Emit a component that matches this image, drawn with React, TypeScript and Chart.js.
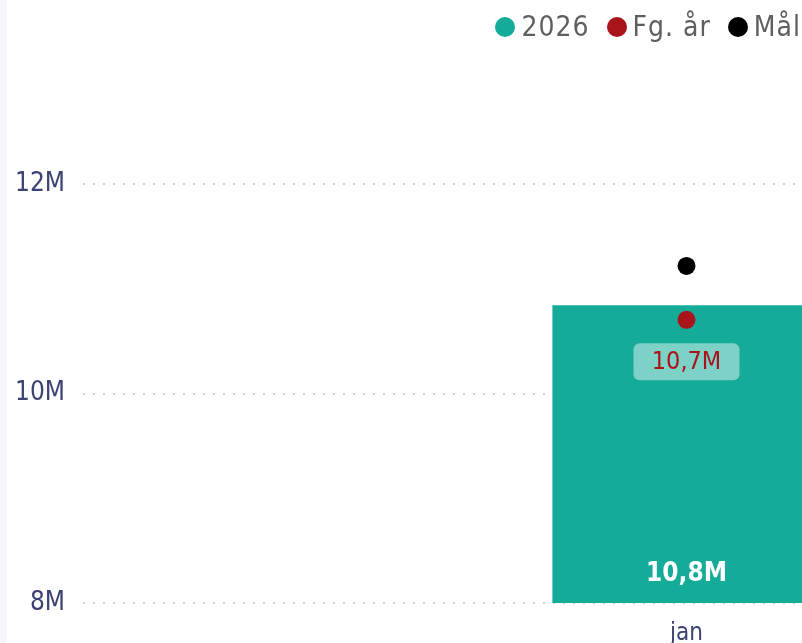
import React, { useEffect, useRef } from "react";
import { Chart, registerables } from "chart.js";

Chart.register(...registerables);

const categories = ["jan"];
const values2026 = [10845000];
const valuesPrevYear = [10705000];
const valuesTarget = [11220000];
const yTicks = [8000000, 10000000, 12000000];

const TEAL = "#14AB98";
const RED = "#A8141A";
const BLACK = "#000000";
const FONT = "'DejaVu Sans Condensed', 'DejaVu Sans', sans-serif";

const fmt = (v: number) => (v / 1e6).toFixed(1).replace(".", ",") + "M";

const labelPlugin = {
  id: "valueLabels",
  afterDatasetsDraw(chart: any) {
    const ctx = chart.ctx;
    const barMeta = chart.getDatasetMeta(0);
    const redMeta = chart.getDatasetMeta(1);
    const bottom = chart.chartArea.bottom;
    ctx.save();
    ctx.textAlign = "center";
    ctx.textBaseline = "middle";
    barMeta.data.forEach((bar: any, i: number) => {
      ctx.font = `bold 26px ${FONT}`;
      ctx.fillStyle = "#ffffff";
      ctx.fillText(fmt(values2026[i]), bar.x, Math.min(bar.base, bottom) - 29);
    });
    redMeta.data.forEach((pt: any, i: number) => {
      const text = fmt(valuesPrevYear[i]);
      ctx.font = `25px ${FONT}`;
      const w = 106;
      const h = 37;
      const cx = pt.x;
      const cy = pt.y + 42;
      ctx.fillStyle = "rgba(255,255,255,0.45)";
      ctx.beginPath();
      (ctx as any).roundRect(cx - w / 2, cy - h / 2, w, h, 6);
      ctx.fill();
      ctx.fillStyle = RED;
      ctx.fillText(text, cx, cy + 1);
    });
    ctx.restore();
  },
};

export default function App() {
  const ref = useRef<HTMLCanvasElement | null>(null);
  useEffect(() => {
    document.body.style.overflow = "hidden";
    const chart = new Chart(ref.current as HTMLCanvasElement, {
      type: "bar",
      data: {
        labels: categories,
        datasets: [
          {
            type: "bar",
            label: "2026",
            data: values2026,
            backgroundColor: TEAL,
            barPercentage: 0.2222,
            categoryPercentage: 1,
            order: 2,
          },
          {
            type: "line",
            label: "Fg. år",
            data: valuesPrevYear,
            showLine: false,
            pointRadius: 9,
            pointBackgroundColor: RED,
            pointBorderWidth: 0,
            borderColor: RED,
            order: 1,
          },
          {
            type: "line",
            label: "Mål",
            data: valuesTarget,
            showLine: false,
            pointRadius: 9,
            pointBackgroundColor: BLACK,
            pointBorderWidth: 0,
            borderColor: BLACK,
            order: 0,
          },
        ] as any,
      },
      options: {
        animation: false,
        responsive: true,
        maintainAspectRatio: false,
        layout: { padding: { top: 26, right: 0, left: 0, bottom: 0 } },
        plugins: { legend: { display: false }, tooltip: { enabled: false } },
        scales: {
          x: {
            grid: { display: false },
            border: { display: false },
            ticks: {
              color: "#3B4372",
              font: { family: FONT, size: 24 },
              padding: 8,
            },
            afterFit(scale: any) {
              scale.height = 40;
            },
          },
          y: {
            min: 8000000,
            max: 13440000,
            afterBuildTicks(scale: any) {
              scale.ticks = yTicks.map((v) => ({ value: v }));
            },
            afterFit(scale: any) {
              scale.width = 83;
            },
            grid: { color: "#D2D2D2", lineWidth: 2, drawTicks: false },
            border: { display: false, dash: [2, 8] },
            ticks: {
              color: "#3B4372",
              font: { family: FONT, size: 26 },
              padding: 18,
              callback: (v: any) => Number(v) / 1e6 + "M",
            },
          },
        },
      },
      plugins: [labelPlugin],
    });
    return () => chart.destroy();
  }, []);

  const legendItems = [
    { label: "2026", color: TEAL },
    { label: "Fg. år", color: RED },
    { label: "Mål", color: BLACK },
  ];

  return (
    <div>
      <div
        style={{
          position: "fixed",
          left: 0,
          top: 0,
          width: "1299px",
          height: "643px",
          background: "#ffffff",
        }}
      >
        <canvas ref={ref} />
      </div>
      <div
        style={{
          position: "fixed",
          left: 0,
          top: 0,
          width: "7px",
          height: "643px",
          background: "#F6F6FC",
        }}
      />
      <div
        style={{
          position: "fixed",
          right: "1px",
          top: "10px",
          display: "flex",
          alignItems: "center",
          fontFamily: FONT,
          fontSize: "28px",
          letterSpacing: "1px",
          color: "#5F5F5F",
          lineHeight: "34px",
        }}
      >
        {legendItems.map((it, i) => (
          <div
            key={it.label}
            style={{ display: "flex", alignItems: "center", marginLeft: i === 0 ? 0 : 17 }}
          >
            <span
              style={{
                display: "inline-block",
                width: 20,
                height: 20,
                borderRadius: "50%",
                background: it.color,
                marginRight: 6,
              }}
            />
            <span>{it.label}</span>
          </div>
        ))}
      </div>
    </div>
  );
}
